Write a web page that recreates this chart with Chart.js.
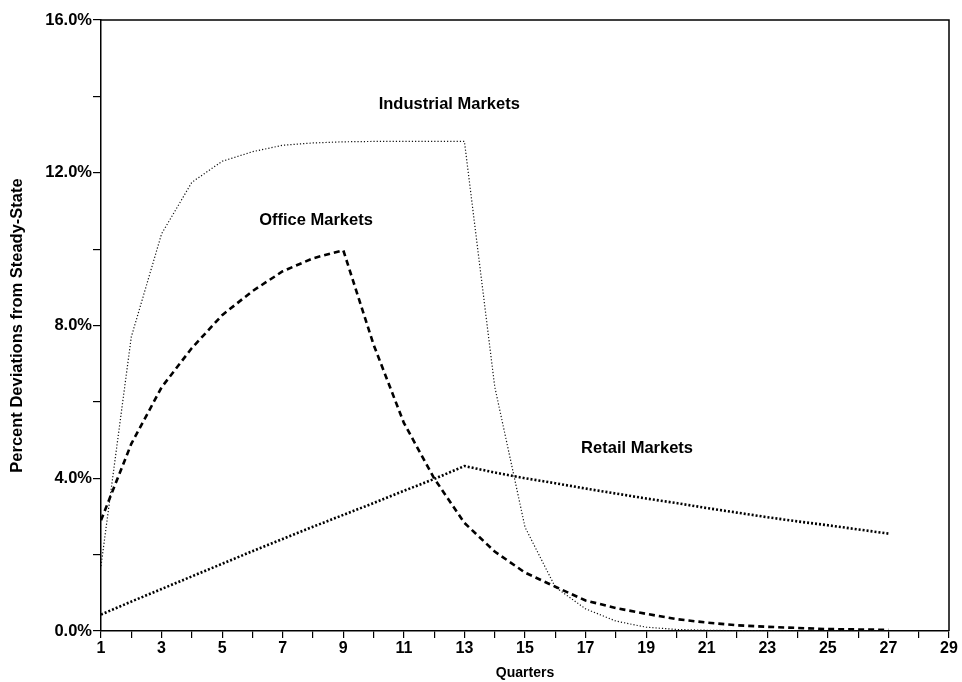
<!DOCTYPE html>
<html>
<head>
<meta charset="utf-8">
<script src="https://cdn.jsdelivr.net/npm/chart.js@4.4.0/dist/chart.umd.min.js"></script>
<style>
  html, body { margin: 0; padding: 0; background: #fff; }
  #wrap { width: 962px; height: 682px; }
</style>
</head>
<body>
<div id="wrap"><canvas id="chart" width="962" height="682"></canvas></div>
<script>
"use strict";

// quarters 1..27
const quarters = [1, 2, 3, 4, 5, 6, 7, 8, 9, 10, 11, 12, 13, 14, 15, 16, 17, 18, 19, 20, 21, 22, 23, 24, 25, 26, 27];

const industrial = [1.7, 7.7, 10.4, 11.75, 12.3, 12.55, 12.72, 12.78, 12.81, 12.82, 12.82, 12.82, 12.82,
  6.4, 2.72, 1.15, 0.58, 0.26, 0.1, 0.04, 0.02, 0.01, 0.01, 0, 0, 0, 0];

const office = [2.9, 4.9, 6.38, 7.41, 8.27, 8.9, 9.42, 9.76, 9.97, 7.5, 5.45, 4.0, 2.83,
  2.08, 1.53, 1.16, 0.8, 0.6, 0.45, 0.31, 0.22, 0.15, 0.11, 0.08, 0.05, 0.04, 0.03];

const retail = [0.43, 0.77, 1.1, 1.43, 1.76, 2.09, 2.41, 2.73, 3.04, 3.35, 3.67, 3.98, 4.32,
  4.15, 4.0, 3.87, 3.73, 3.6, 3.47, 3.35, 3.22, 3.1, 2.98, 2.87, 2.77, 2.66, 2.55];

// label texts with the spot (quarter, percent) where they sit
const labelTexts = ["Industrial Markets", "Office Markets", "Retail Markets"];
const labelSpots = [[12.5, 13.8], [8.1, 10.75], [18.7, 4.78]];

const yTicks = [0, 4, 8, 12, 16];

function toPoints(values) {
  let pts = [];
  for (let i = 0; i < values.length; i++) {
    pts.push({ x: quarters[i], y: values[i] });
  }
  return pts;
}

const fontMain = "'Liberation Sans', Arial, sans-serif";

// box on top and right + market labels
const extras = {
  id: "extras",
  afterDraw(chart) {
    const ctx = chart.ctx;
    const a = chart.chartArea;
    ctx.save();
    ctx.strokeStyle = "#000";
    ctx.lineWidth = 1.5;
    ctx.beginPath();
    ctx.moveTo(a.left, a.top);
    ctx.lineTo(a.right, a.top);
    ctx.lineTo(a.right, a.bottom);
    ctx.stroke();

    ctx.fillStyle = "#000";
    ctx.font = "bold 16.5px " + fontMain;
    ctx.textAlign = "center";
    ctx.textBaseline = "middle";
    for (let i = 0; i < labelTexts.length; i++) {
      const px = chart.scales.x.getPixelForValue(labelSpots[i][0]);
      const py = chart.scales.y.getPixelForValue(labelSpots[i][1]);
      ctx.fillText(labelTexts[i], px, py);
    }
    ctx.restore();
  }
};

const data = {
  datasets: [
    {
      label: "Industrial Markets",
      data: toPoints(industrial),
      borderColor: "#111",
      borderWidth: 1.2,
      borderDash: [1.2, 2],
      pointRadius: 0,
      tension: 0,
    },
    {
      label: "Office Markets",
      data: toPoints(office),
      borderColor: "#000",
      borderWidth: 2.6,
      borderDash: [6, 4],
      pointRadius: 0,
      tension: 0,
    },
    {
      label: "Retail Markets",
      data: toPoints(retail),
      borderColor: "#000",
      borderWidth: 2.6,
      borderDash: [2, 2],
      pointRadius: 0,
      tension: 0,
    },
  ],
};

const config = {
  type: "line",
  data: data,
  plugins: [extras],
  options: {
    responsive: false,
    animation: false,
    layout: { padding: { top: 20, right: 13, left: 0, bottom: 0 } },
    plugins: {
      legend: { display: false },
      tooltip: { enabled: false },
    },
    scales: {
      x: {
        type: "linear",
        min: 1,
        max: 29,
        afterFit(scale) { scale.height = 51; },
        afterBuildTicks(scale) {
          let t = [];
          for (let q = 1; q <= 29; q++) t.push({ value: q });
          scale.ticks = t;
        },
        grid: { display: true, drawOnChartArea: false, drawTicks: true, tickLength: 7, color: "#000", lineWidth: 1.2 },
        border: { display: true, color: "#000", width: 1.5 },
        ticks: {
          autoSkip: false,
          maxRotation: 0,
          color: "#000",
          padding: 1,
          font: { family: fontMain, size: 16, weight: "bold" },
          callback: (v) => (v % 2 === 1 ? String(v) : ""),
        },
        title: {
          display: true,
          text: "Quarters",
          color: "#000",
          padding: { top: 0, bottom: 0 },
          font: { family: fontMain, size: 14, weight: "bold" },
        },
      },
      y: {
        min: 0,
        max: 16,
        afterFit(scale) { scale.width = 101; },
        afterBuildTicks(scale) {
          let t = [];
          for (let v = 0; v <= 16; v += 2) t.push({ value: v });
          scale.ticks = t;
        },
        grid: { display: true, drawOnChartArea: false, drawTicks: true, tickLength: 8, color: "#000", lineWidth: 1.2 },
        border: { display: true, color: "#000", width: 1.5 },
        ticks: {
          color: "#000",
          padding: 1,
          font: { family: fontMain, size: 16.5, weight: "bold" },
          callback: (v) => (yTicks.includes(v) ? v.toFixed(1) + "%" : ""),
        },
        title: {
          display: true,
          text: "Percent Deviations from Steady-State",
          color: "#000",
          padding: { top: 8, bottom: 4 },
          font: { family: fontMain, size: 16.5, weight: "bold" },
        },
      },
    },
  },
};

const newChart = new Chart(document.getElementById("chart"), config);
</script>
</body>
</html>
